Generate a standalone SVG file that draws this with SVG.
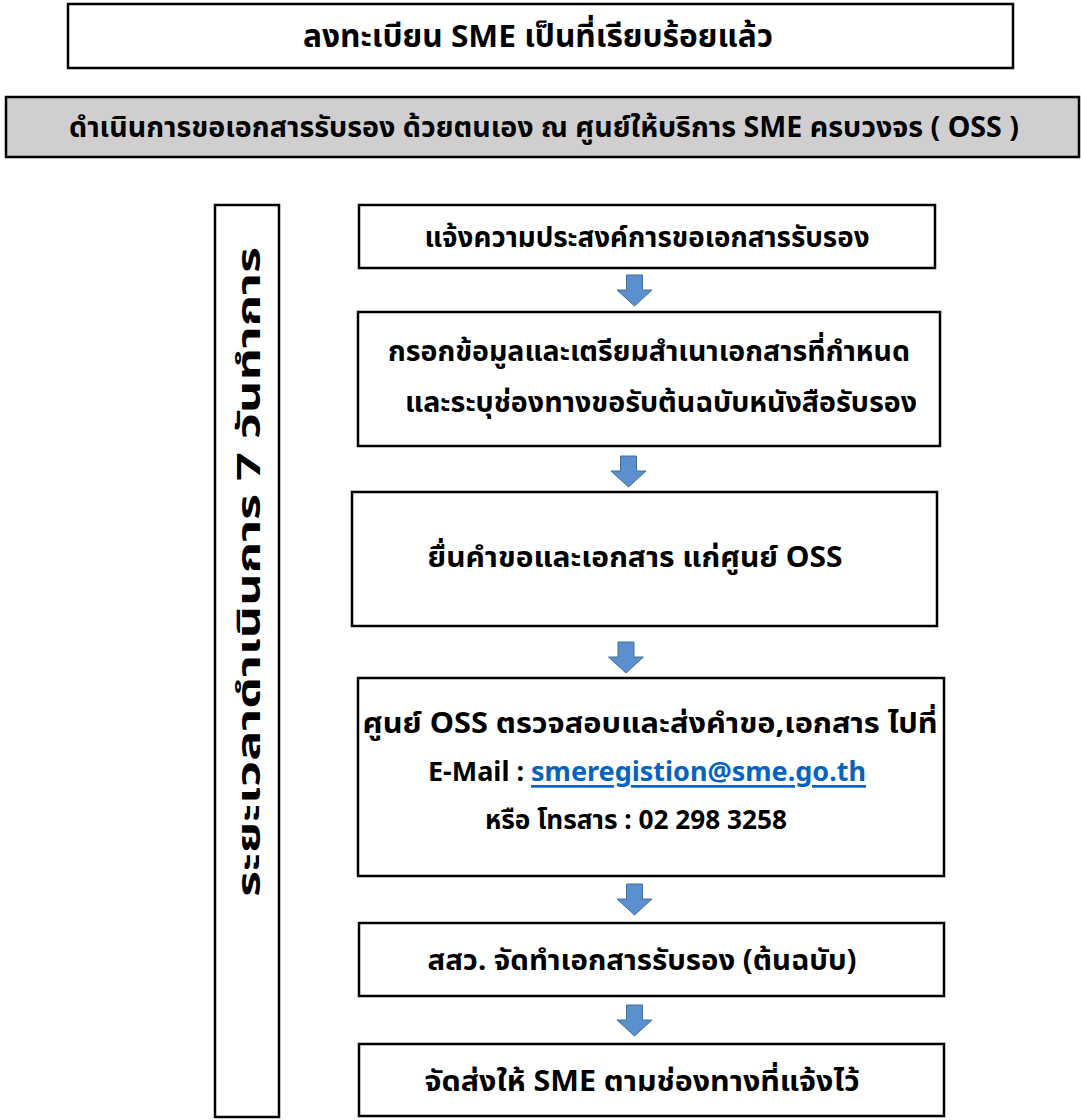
<svg xmlns="http://www.w3.org/2000/svg" width="1081" height="1120" viewBox="0 0 1081 1120">
<defs>
<style>
.box{fill:#ffffff;stroke:#000000;stroke-width:2.5}
.gray{fill:#d0cece;stroke:#000000;stroke-width:2.5}
.t{font-family:"Noto Sans","Noto Sans Thai","DejaVu Sans",sans-serif;font-weight:bold;fill:#000000;text-anchor:middle;dominant-baseline:central}
.arrow{fill:#5b8fcd;stroke:#41719c;stroke-width:1}
.link{fill:#0563c1;text-decoration:underline}
</style>
<path id="dn" d="M-8,0 H8 V15 H17.5 L0,31 L-17.5,15 H-8 Z"/>
</defs>
<rect width="1081" height="1120" fill="#ffffff"/>
<g id="n-registered">
<rect class="box" x="68" y="4" width="945" height="64"/>
<text class="t" x="538" y="35" font-size="31" textLength="470" lengthAdjust="spacingAndGlyphs">ลงทะเบียน SME เป็นที่เรียบร้อยแล้ว</text>
</g>
<g id="n-oss">
<rect class="gray" x="6" y="97" width="1073" height="60"/>
<text class="t" x="544" y="126" font-size="28" textLength="950" lengthAdjust="spacingAndGlyphs">ดำเนินการขอเอกสารรับรอง ด้วยตนเอง ณ ศูนย์ให้บริการ SME ครบวงจร ( OSS )</text>
</g>
<g id="n-duration">
<rect class="box" x="215" y="205" width="64" height="912"/>
<text class="t" transform="translate(247,572) rotate(-90)" font-size="32" textLength="650" lengthAdjust="spacingAndGlyphs">ระยะเวลาดำเนินการ 7 วันทำการ</text>
</g>
<g id="n-step1">
<rect class="box" x="359" y="205" width="576" height="63"/>
<text class="t" x="647" y="236" font-size="28" textLength="445" lengthAdjust="spacingAndGlyphs">แจ้งความประสงค์การขอเอกสารรับรอง</text>
</g>
<g id="n-step2">
<rect class="box" x="358" y="312" width="582" height="134"/>
<text class="t" x="649" y="350" font-size="28" textLength="522" lengthAdjust="spacingAndGlyphs">กรอกข้อมูลและเตรียมสำเนาเอกสารที่กำหนด</text>
<text class="t" x="661" y="401" font-size="28" textLength="512" lengthAdjust="spacingAndGlyphs">และระบุช่องทางขอรับต้นฉบับหนังสือรับรอง</text>
</g>
<g id="n-step3">
<rect class="box" x="352" y="492" width="585" height="134"/>
<text class="t" x="635" y="556" font-size="28" textLength="415" lengthAdjust="spacingAndGlyphs">ยื่นคำขอและเอกสาร แก่ศูนย์ OSS</text>
</g>
<g id="n-step4">
<rect class="box" x="358" y="678" width="586" height="198"/>
<text class="t" x="650" y="722" font-size="28" textLength="575" lengthAdjust="spacingAndGlyphs">ศูนย์ OSS ตรวจสอบและส่งคำขอ,เอกสาร ไปที่</text>
<text class="t" x="647" y="770" font-size="27" textLength="438" lengthAdjust="spacingAndGlyphs">E-Mail : <tspan class="link">smeregistion@sme.go.th</tspan></text>
<text class="t" x="636" y="818" font-size="27" textLength="302" lengthAdjust="spacingAndGlyphs">หรือ โทรสาร : 02 298 3258</text>
</g>
<g id="n-step5">
<rect class="box" x="359" y="923" width="585" height="73"/>
<text class="t" x="642" y="959" font-size="28" textLength="429" lengthAdjust="spacingAndGlyphs">สสว. จัดทำเอกสารรับรอง (ต้นฉบับ)</text>
</g>
<g id="n-step6">
<rect class="box" x="359" y="1044" width="585" height="72"/>
<text class="t" x="642" y="1080" font-size="28" textLength="435" lengthAdjust="spacingAndGlyphs">จัดส่งให้ SME ตามช่องทางที่แจ้งไว้</text>
</g>
<g id="connectors">
<use href="#dn" class="arrow" x="634.5" y="275"/>
<use href="#dn" class="arrow" x="628.5" y="456"/>
<use href="#dn" class="arrow" x="626" y="642"/>
<use href="#dn" class="arrow" x="634.5" y="884"/>
<use href="#dn" class="arrow" x="634.5" y="1005"/>
</g>
</svg>
